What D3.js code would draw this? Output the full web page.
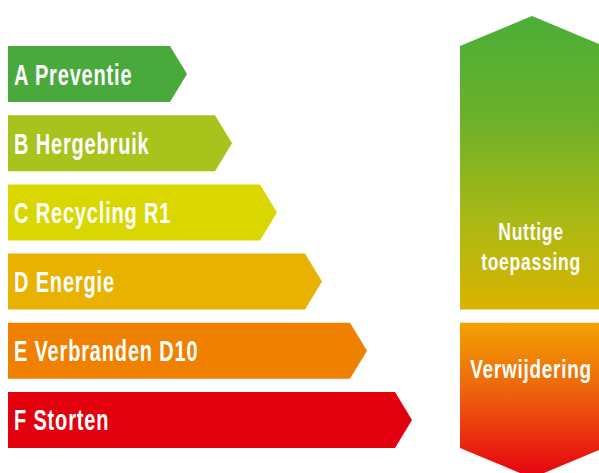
<!DOCTYPE html>
<html><head><meta charset="utf-8">
<script src="https://cdn.jsdelivr.net/npm/d3@7"></script>
<style>html,body{margin:0;padding:0;background:#fff;overflow:hidden}</style>
</head><body>
<script>
// ---- data ----
const categories = ["A Preventie","B Hergebruik","C Recycling R1","D Energie","E Verbranden D10","F Storten"];
const ranks = [1,2,3,4,5,6];
const barColors = ["#4aa93c","#a8c31c","#dad700","#e9b200","#f08000","#e2000f"];
const groupLabels = [["Nuttige","toepassing"],["Verwijdering"]];
const groupMembers = [["A Preventie","D Energie"],["E Verbranden D10","F Storten"]];

const W = 599, H = 473;
const svg = d3.select("body").append("svg").attr("width", W).attr("height", H);

const y = d3.scaleBand().domain(categories).range([46, 448]).paddingInner(0.19).paddingOuter(0);
const x = d3.scaleLinear().domain([0, 6]).range([125, 395]);
const x0 = 8, tip = 17;
const bw = y.bandwidth();

const font = "'Liberation Sans', Arial, sans-serif";

// bars
const bars = svg.append("g");
categories.forEach((c, i) => {
  const top = y(c), bot = top + bw, end = x(ranks[i]);
  bars.append("path")
    .attr("d", `M${x0},${top}L${end},${top}L${end + tip},${top + bw / 2}L${end},${bot}L${x0},${bot}Z`)
    .attr("fill", barColors[i]);
  bars.append("text")
    .attr("transform", `translate(${x0 + 6},${top + bw / 2 + 10.5}) scale(0.69,1)`)
    .attr("font-family", font).attr("font-weight", "bold").attr("font-size", 29)
    .attr("fill", "#fff").attr("letter-spacing", 1.2)
    .text(c);
});

// right panel
const cx = 532, half = 72, chev = 30;
const defs = svg.append("defs");
const g1 = defs.append("linearGradient").attr("id", "g1").attr("gradientUnits", "userSpaceOnUse")
  .attr("x1", 0).attr("x2", 0).attr("y1", y(groupMembers[0][0]) - chev).attr("y2", y(groupMembers[0][1]) + bw);
g1.append("stop").attr("offset", 0).attr("stop-color", "#4aae38");
g1.append("stop").attr("offset", 0.35).attr("stop-color", "#6cb12a");
g1.append("stop").attr("offset", 0.7).attr("stop-color", "#abb914");
g1.append("stop").attr("offset", 1).attr("stop-color", "#dab300");
const g2 = defs.append("linearGradient").attr("id", "g2").attr("gradientUnits", "userSpaceOnUse")
  .attr("x1", 0).attr("x2", 0).attr("y1", y(groupMembers[1][0])).attr("y2", y(groupMembers[1][1]) + bw + chev);
g2.append("stop").attr("offset", 0).attr("stop-color", "#f2a300");
g2.append("stop").attr("offset", 0.4).attr("stop-color", "#ee6a0c");
g2.append("stop").attr("offset", 1).attr("stop-color", "#e6000f");

const t1 = y(groupMembers[0][0]), b1 = y(groupMembers[0][1]) + bw;
svg.append("path")
  .attr("d", `M${cx - half},${t1}L${cx},${t1 - chev}L${cx + half},${t1}L${cx + half},${b1}L${cx - half},${b1}Z`)
  .attr("fill", "url(#g1)");
const t2 = y(groupMembers[1][0]), b2 = y(groupMembers[1][1]) + bw;
svg.append("path")
  .attr("d", `M${cx - half},${t2}L${cx + half},${t2}L${cx + half},${b2}L${cx},${b2 + chev}L${cx - half},${b2}Z`)
  .attr("fill", "url(#g2)");

// group labels
[[240, 270], [378]].forEach((ys, gi) => {
  groupLabels[gi].forEach((line, li) => {
    svg.append("text")
      .attr("transform", `translate(${cx - 1},${ys[li]}) scale(0.73,1)`)
      .attr("text-anchor", "middle")
      .attr("font-family", font).attr("font-weight", "bold")
      .attr("font-size", gi === 0 ? 24 : 26)
      .attr("fill", "#fff").attr("letter-spacing", 1)
      .text(line);
  });
});
</script>
</body></html>
